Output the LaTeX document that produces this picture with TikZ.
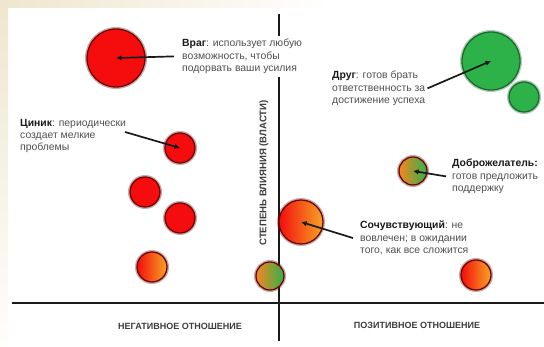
\documentclass[tikz,border=0pt]{standalone}
\usepackage{fontspec}
\setmainfont{Liberation Sans}
\usetikzlibrary{arrows.meta}

\definecolor{ink}{HTML}{1A1A1A}
\definecolor{txt}{HTML}{505050}
\definecolor{redfill}{HTML}{F50D0D}
\definecolor{redline}{HTML}{6E0808}
\definecolor{grfill}{HTML}{2DB24A}
\definecolor{grline}{HTML}{1C6A2E}
\definecolor{orng}{HTML}{F6A425}
\definecolor{ylw}{HTML}{E9C421}
\definecolor{beige}{HTML}{EFE6CF}

\begin{document}
\begin{tikzpicture}[x=1pt,y=1pt,
  ball/.style={circle, inner sep=0pt, minimum size=#1, draw=redline, line width=1.3pt,
    preaction={draw=redline, line width=4pt, draw opacity=0.35}},
  redball/.style={ball=#1, fill=redfill},
  hotball/.style={ball=#1, left color=redfill, right color=orng},
  mixball/.style={ball=#1, left color=orng!80!redfill, middle color=ylw, right color=grfill},
  greenball/.style={circle, inner sep=0pt, minimum size=#1, draw=grline, line width=1.3pt,
    fill=grfill, preaction={draw=grline, line width=4pt, draw opacity=0.35}},
  arr/.style={line width=1.7pt, draw=ink, -{Latex[length=5.5pt,width=5.5pt]}},
  lbl/.style={align=left, anchor=north west, inner sep=0pt, text=txt,
    font=\fontsize{10.4}{12.3}\selectfont},
  axlbl/.style={inner sep=0pt, text=ink!85, font=\fontsize{9}{10}\selectfont\bfseries},
  axis/.style={draw=ink, line width=#1}
]
\useasboundingbox (0,0) rectangle (544,347);
\clip (0,0) rectangle (544,347);

% page background with a faint warm margin along the top and left edges
\fill[white] (0,0) rectangle (544,347);
\shade[left color=beige, right color=white] (0,339) rectangle (330,347);
\shade[top color=beige, bottom color=white!96!beige] (0,0) rectangle (8,347);

% axes: influence (vertical) and attitude (horizontal)
\coordinate (vtop) at (279,333);
\coordinate (vbot) at (279,6);
\coordinate (hleft) at (12,44);
\coordinate (hright) at (544,44);
\draw[axis=2.2pt] (vtop) -- (vbot);
\draw[axis=2.6pt] (hleft) -- (hright);

% axis captions
\node[axlbl] (neg) at (180,21) {НЕГАТИВНОЕ ОТНОШЕНИЕ};
\node[axlbl] (pos) at (417,22) {ПОЗИТИВНОЕ ОТНОШЕНИЕ};
\node[axlbl, rotate=90, font=\fontsize{9.6}{10}\selectfont\bfseries] (infl) at (264,174)
  {СТЕПЕНЬ ВЛИЯНИЯ (ВЛАСТИ)};

% descriptions of the stakeholder types
\node[lbl, fill=white, inner sep=3pt] (tvrag) at (179,311)
  {{\color{ink}\bfseries Враг}: использует любую\\возможность, чтобы\\подорвать ваши усилия};
\node[lbl] (tcinik) at (20,228)
  {{\color{ink}\bfseries Циник}: периодически\\создает мелкие\\проблемы};
\node[lbl] (tdrug) at (332,276)
  {{\color{ink}\bfseries Друг}: готов брать\\ответственность за\\достижение успеха};
\node[lbl] (tdobr) at (452,188)
  {{\color{ink}\bfseries Доброжелатель:}\\готов предложить\\поддержку};
\node[lbl] (tsym) at (360,126)
  {{\color{ink}\bfseries Сочувствующий}: не\\вовлечен; в ожидании\\того, как все сложится};

% stakeholders
\node[redball=58pt] (vrag) at (116,289) {};
\node[redball=30pt] (cinik) at (180,199) {};
\node[redball=30pt] (r1) at (145,155) {};
\node[redball=30pt] (r2) at (180,129) {};
\node[hotball=30pt] (h1) at (152,80) {};
\node[mixball=28pt] (m1) at (270,71) {};
\node[hotball=44pt] (sym) at (301,125) {};
\node[hotball=30pt] (h2) at (476,72) {};
\node[greenball=58pt] (drug) at (491,286) {};
\node[greenball=30pt] (drug2) at (524,250) {};
\node[mixball=28pt] (dobr) at (413,176) {};

% pointers from the descriptions
\coordinate (cinikfrom) at (125,215);
\draw[arr] ([xshift=-5pt]tvrag.west) -- (vrag.center);
\draw[arr] (cinikfrom) -- (cinik.center);
\draw[arr] ([xshift=2pt]tdrug.east) -- (drug.center);
\draw[arr] ([xshift=-6pt]tdobr.west) -- (dobr.center);
\draw[arr] ([xshift=-7pt]tsym.west) -- (sym.center);
\end{tikzpicture}
\end{document}
